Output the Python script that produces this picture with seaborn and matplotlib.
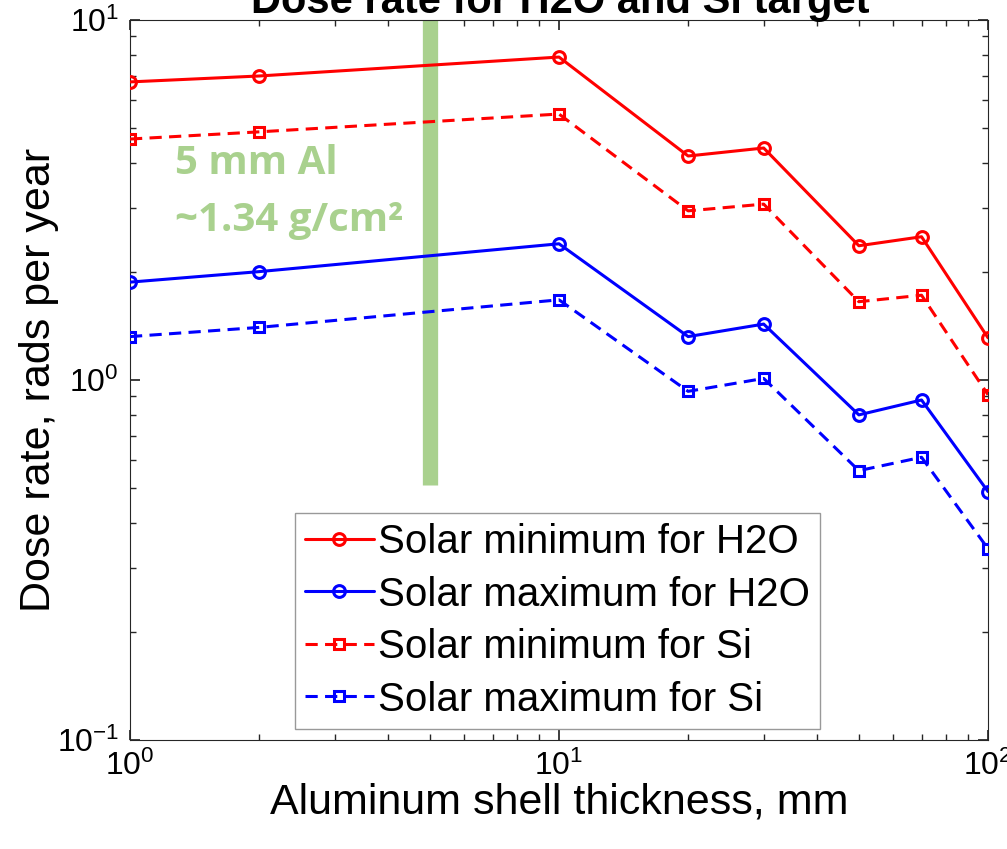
import numpy as np
import pandas as pd
import matplotlib
matplotlib.use("Agg")
import matplotlib.pyplot as plt
import seaborn as sns
from matplotlib import font_manager as fm

thickness_mm = [1, 2, 10, 20, 30, 50, 70, 100]
solar_min_h2o = [6.73, 6.99, 7.89, 4.19, 4.41, 2.36, 2.50, 1.31]
solar_max_h2o = [1.87, 2.00, 2.39, 1.32, 1.43, 0.80, 0.88, 0.49]
solar_min_si = [4.67, 4.89, 5.48, 2.95, 3.08, 1.65, 1.72, 0.91]
solar_max_si = [1.32, 1.40, 1.67, 0.93, 1.01, 0.56, 0.61, 0.34]
labels = ["Solar minimum for H2O", "Solar maximum for H2O",
          "Solar minimum for Si", "Solar maximum for Si"]
marker_x = [5, 5]
marker_y = [0.51, 10]

sns.set_theme(style="white")
avail = {f.name for f in fm.fontManager.ttflist}
main_font = "Liberation Sans Narrow" if "Liberation Sans Narrow" in avail else "Liberation Sans"
plt.rcParams['font.family'] = [main_font, 'DejaVu Sans']
plt.rcParams['mathtext.fontset'] = 'custom'
plt.rcParams['mathtext.rm'] = main_font
plt.rcParams['mathtext.it'] = main_font
plt.rcParams['mathtext.bf'] = main_font

fig = plt.figure(figsize=(10.07, 8.49), dpi=100)
ax = fig.add_axes([130/1007, 1-740/849, (988-130)/1007, (740-20)/849])

series = [solar_min_h2o, solar_max_h2o, solar_min_si, solar_max_si]
colors = ["#ff0000", "#0000ff", "#ff0000", "#0000ff"]
markers = ["o", "o", "s", "s"]
styles = ["-", "-", "--", "--"]
msizes = [8.5, 8.5, 7.5, 7.5]

# green marker bar at 5 mm
ax.plot(marker_x, marker_y, color="#a9d18e", lw=11, solid_capstyle="butt", zorder=1)

for vals, c, m, ls, lab, ms in zip(series, colors, markers, styles, labels, msizes):
    df = pd.DataFrame({"x": thickness_mm, "y": vals})
    sns.lineplot(data=df, x="x", y="y", ax=ax, color=c, marker=m,
                 lw=2.2, markersize=ms, markerfacecolor="none", markeredgecolor=c,
                 markeredgewidth=2.2, label=lab, zorder=3)
    if ls == "--":
        ax.lines[-1].set_dashes([4, 2.4])

ax.set_xscale("log")
ax.set_yscale("log")
ax.set_xlim(1, 100)
ax.set_ylim(0.1, 10)

for s in ax.spines.values():
    s.set_color("#262626")
    s.set_linewidth(0.8)
ax.tick_params(which="both", direction="in", top=True, right=True,
               bottom=True, left=True, colors="#262626", labelcolor="black")
ax.tick_params(which="major", length=7, labelsize=23, pad=8)
ax.tick_params(which="minor", length=4)

ax.set_xlabel("Aluminum shell thickness, mm", fontsize=31, color="black", labelpad=0)
ax.set_ylabel("Dose rate, rads per year", fontsize=31, color="black", labelpad=-2)

leg = ax.legend(loc="upper left", bbox_to_anchor=((295-130)/858, (740-513)/720),
                borderaxespad=0, fontsize=29, frameon=True, fancybox=False,
                edgecolor="#808080", handlelength=1.7, handletextpad=0.1,
                labelspacing=0.36, borderpad=0.25)
leg.get_frame().set_linewidth(1)
for t in leg.get_texts():
    t.set_color("black")

green_font = ["Open Sans", "DejaVu Sans"]
ax.text(0.052, 0.801, "5 mm Al", transform=ax.transAxes, fontsize=29,
        fontweight="bold", color="#a9d18e", family=green_font, va="center")
ax.text(0.052, 0.722, "~1.34 g/cm\u00b2", transform=ax.transAxes, fontsize=29,
        fontweight="bold", color="#a9d18e", family=green_font, va="center")

fig.text(560/1007, 1-2/849, "Dose rate for H2O and Si target", fontsize=30,
         fontweight="bold", ha="center", va="center", color="black")

fig.savefig("out.png", dpi=100)
